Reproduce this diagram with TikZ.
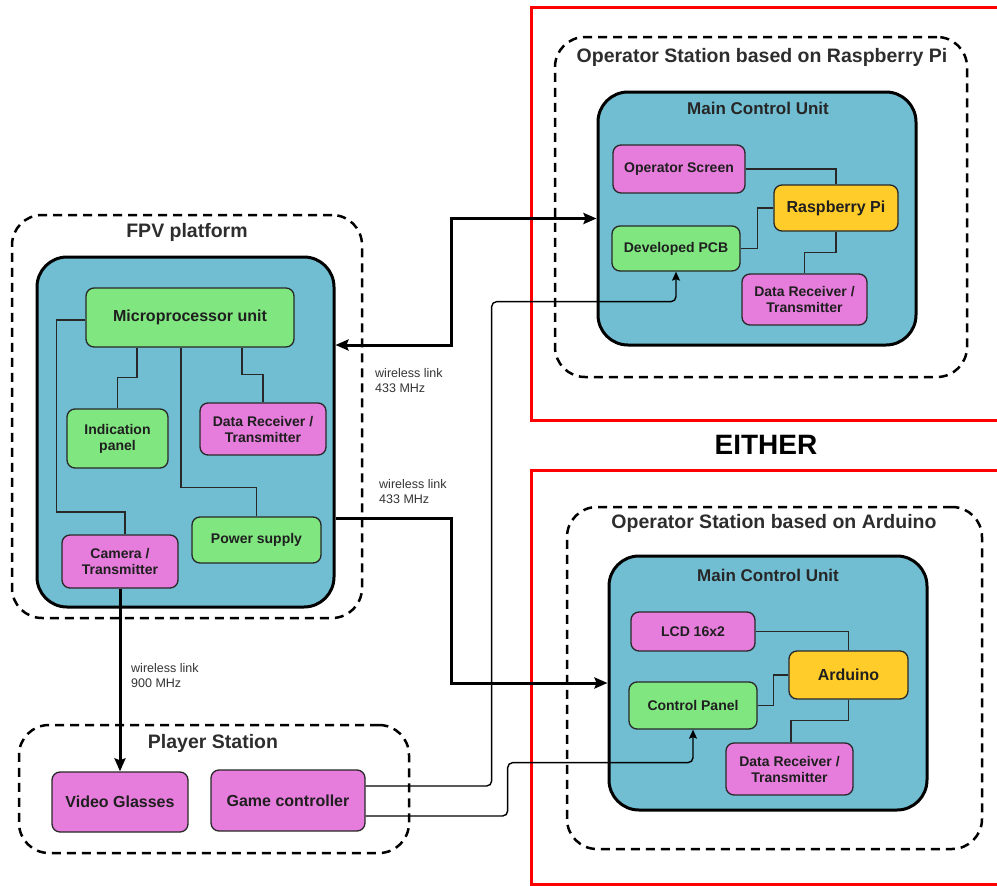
\documentclass[tikz,border=0pt]{standalone}
\usepackage{fontspec}
\setmainfont{Liberation Sans}
\usetikzlibrary{arrows.meta}
\definecolor{mcublue}{RGB}{113,190,211}
\definecolor{boxgreen}{RGB}{128,230,128}
\definecolor{boxpink}{RGB}{230,124,220}
\definecolor{boxyellow}{RGB}{255,204,41}
\definecolor{frame}{RGB}{255,0,0}
\definecolor{edge}{RGB}{40,40,40}
\definecolor{titlegray}{RGB}{45,45,45}
\begin{document}
\begin{tikzpicture}[x=1pt,y=-1pt,
  group/.style={draw=black, line width=2.5pt, dash pattern=on 9pt off 6pt, rounded corners=30pt, inner sep=0pt},
  mcu/.style={draw=black, line width=3pt, fill=mcublue, rounded corners=30pt, inner sep=0pt},
  grouptitle/.style={text=titlegray, font=\bfseries\fontsize{19.5}{23}\selectfont, inner sep=0pt},
  mcutitle/.style={text=black!85, font=\bfseries\fontsize{17}{20}\selectfont, inner sep=0pt},
  unit/.style={draw=edge, line width=1.3pt, rounded corners=8pt, inner sep=0pt, align=center, text=black!88, font=\bfseries\fontsize{14}{16}\selectfont},
  bigunit/.style={unit, font=\bfseries\fontsize{16}{18}\selectfont},
  gbox/.style={unit, fill=boxgreen},
  pbox/.style={unit, fill=boxpink},
  ybox/.style={bigunit, fill=boxyellow},
  wire/.style={draw=edge, line width=1.4pt},
  link/.style={draw=black, line width=3pt},
  ctrl/.style={draw=black, line width=1.4pt, rounded corners=5pt},
  linklabel/.style={align=left, anchor=north west, inner sep=0pt, text=black!80, font=\fontsize{12.5}{15}\selectfont},
  redframe/.style={draw=frame, line width=3pt}
]
\useasboundingbox (0,0) rectangle (997,886);

% red frames
\draw[redframe] (531,7) rectangle (1004,420);
\draw[redframe] (531,470) rectangle (1004,884);
\node[font=\bfseries\fontsize{28}{32}\selectfont, inner sep=0pt] (either) at (766,445) {EITHER};

% FPV platform
\node[group, minimum width=350pt, minimum height=403pt] (fpvdash) at (187,416.5) {};
\node[grouptitle] (fpvtitle) at (187,232) {FPV platform};
\node[mcu, minimum width=297pt, minimum height=350pt] (fpvmcu) at (185.5,432) {};
\node[gbox, bigunit, fill=boxgreen, minimum width=208pt, minimum height=59pt] (mpu) at (190,317.5) {Microprocessor unit};
\node[gbox, minimum width=101pt, minimum height=59pt] (ind) at (117.5,438.5) {Indication\\panel};
\node[pbox, minimum width=126pt, minimum height=52pt] (fdrt) at (263,429) {Data Receiver /\\Transmitter};
\node[gbox, minimum width=129pt, minimum height=46pt] (pwr) at (256.5,540) {Power supply};
\node[pbox, minimum width=116pt, minimum height=53pt] (cam) at (120,561.5) {Camera /\\Transmitter};

\draw[wire] ([xshift=-53pt]mpu.south) -- ++(0,30) -| (ind.north);
\draw[wire] ([xshift=52pt]mpu.south) -- ++(0,27) -| (fdrt.north);
\draw[wire] ([xshift=-9pt]mpu.south) -- ++(0,140) -| (pwr.north);
\draw[wire] ([yshift=-2.5pt]mpu.west) -- ++(-29,0) -- ++(0,192) -| ([xshift=5pt]cam.north);

% Player station
\node[group, minimum width=390pt, minimum height=128pt] (pdash) at (214,789) {};
\node[grouptitle] (ptitle) at (213,743) {Player Station};
\node[pbox, bigunit, fill=boxpink, minimum width=136pt, minimum height=60pt] (vg) at (120,802) {Video Glasses};
\node[pbox, bigunit, fill=boxpink, minimum width=154pt, minimum height=61pt] (gc) at (288,800.5) {Game controller};

% Operator station Raspberry Pi
\node[group, minimum width=412pt, minimum height=340pt] (rdash) at (761,207) {};
\node[grouptitle] (rtitle) at (762,57) {Operator Station based on Raspberry Pi};
\node[mcu, minimum width=318pt, minimum height=253pt] (rmcu) at (757,218.5) {};
\node[mcutitle] (rmcutitle) at (758,108) {Main Control Unit};
\node[pbox, minimum width=132pt, minimum height=48pt] (opscr) at (679,169) {Operator Screen};
\node[ybox, minimum width=124pt, minimum height=46pt] (rpi) at (836,208) {Raspberry Pi};
\node[gbox, minimum width=128pt, minimum height=45pt] (pcb) at (676,248.5) {Developed PCB};
\node[pbox, minimum width=125pt, minimum height=51pt] (rdrt) at (804.5,299.5) {Data Receiver /\\Transmitter};

\draw[wire] (opscr.east) -| (rpi.north);
\draw[wire] (pcb.east) -- ++(17,0) |- (rpi.west);
\draw[wire] (rpi.south) -- ++(0,21) -| (rdrt.north);

% Operator station Arduino
\node[group, minimum width=415pt, minimum height=342pt] (adash) at (774.5,678) {};
\node[grouptitle] (atitle) at (774,523) {Operator Station based on Arduino};
\node[mcu, minimum width=318pt, minimum height=254pt] (amcu) at (768,683) {};
\node[mcutitle] (amcutitle) at (768,575) {Main Control Unit};
\node[pbox, minimum width=124pt, minimum height=39pt] (lcd) at (693,631.5) {LCD 16x2};
\node[ybox, minimum width=119pt, minimum height=48pt] (ard) at (848.5,675) {Arduino};
\node[gbox, minimum width=128pt, minimum height=47pt] (cp) at (693,705.5) {Control Panel};
\node[pbox, minimum width=127pt, minimum height=52pt] (adrt) at (789.5,769) {Data Receiver /\\Transmitter};

\draw[wire] (lcd.east) -| (ard.north);
\draw[wire] (cp.east) -- ++(16,0) |- (ard.west);
\draw[wire] (ard.south) -- ++(0,21) -| ([xshift=1.5pt]adrt.north);

% wireless links
\draw[link, {Stealth[length=13pt,width=11pt,inset=2pt]}-{Stealth[length=13pt,width=11pt,inset=2pt]}] ([yshift=87pt]fpvmcu.east) -- ++(116,0) |- (rmcu.west);
\draw[link, -{Stealth[length=13pt,width=11pt,inset=2pt]}] ([yshift=-86pt]fpvmcu.east) -- ++(116,0) |- (amcu.west);
\draw[link, -{Stealth[length=13pt,width=11pt,inset=2pt]}] (cam.south) -- (vg.north);

\node[linklabel] (l1) at (375,368) {wireless link\\433 MHz};
\node[linklabel] (l2) at (379,479) {wireless link\\433 MHz};
\node[linklabel] (l3) at (131,663) {wireless link\\900 MHz};

% game controller lines
\draw[ctrl, -{Stealth[length=9pt,width=8pt,inset=1.5pt]}] ([yshift=14.5pt]gc.east) -- ++(126,0) |- ([yshift=-30pt]pcb.south) -- (pcb.south);
\draw[ctrl, -{Stealth[length=9pt,width=8pt,inset=1.5pt]}] ([yshift=-15.5pt]gc.east) -- ++(142,0) |- ([yshift=-33pt]cp.south) -- (cp.south);
\end{tikzpicture}
\end{document}
